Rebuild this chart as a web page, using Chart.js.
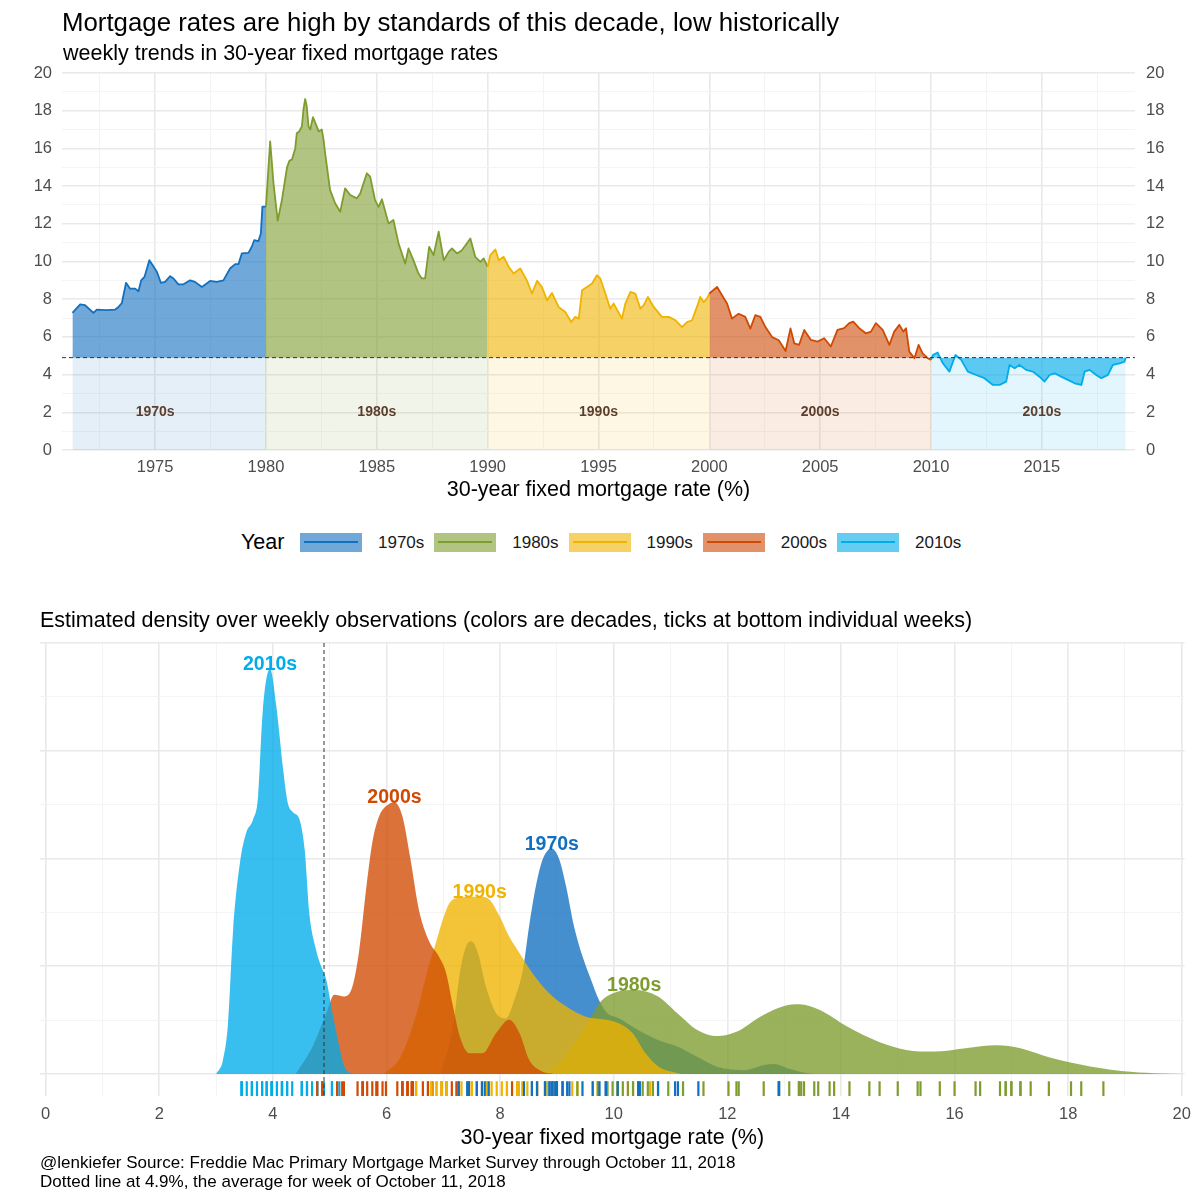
<!DOCTYPE html>
<html>
<head>
<meta charset="utf-8">
<script src="https://cdn.jsdelivr.net/npm/chart.js@4.4.1/dist/chart.umd.min.js"></script>
<style>
html,body{margin:0;padding:0;background:#fff;}
#page{position:relative;width:1200px;height:1200px;overflow:hidden;font-family:"Liberation Sans",Arial,Helvetica,sans-serif;}
.t{position:absolute;white-space:nowrap;color:#000;line-height:1;}
canvas{position:absolute;left:0;}
.lbox{position:absolute;width:62px;height:19px;}
.lbox i{position:absolute;left:4px;right:4px;top:8.5px;height:2px;display:block;}
</style>
</head>
<body>
<div id="page">
  <canvas id="top" width="1200" height="510" style="top:0"></canvas>
  <canvas id="dens" width="1200" height="600" style="top:600px"></canvas>
  <div class="t" style="left:62px;top:10px;font-size:25.8px">Mortgage rates are high by standards of this decade, low historically</div>
  <div class="t" style="left:63px;top:43px;font-size:21.5px">weekly trends in 30-year fixed mortgage rates</div>
  <div class="t" id="legYear" style="left:241px;top:531.5px;font-size:21.5px">Year</div>
  <div class="t" style="left:40px;top:610px;font-size:21.5px">Estimated density over weekly observations (colors are decades, ticks at bottom individual weeks)</div>
  <div class="t" style="left:40px;top:1154px;font-size:17px">@lenkiefer Source: Freddie Mac Primary Mortgage Market Survey through October 11, 2018</div>
  <div class="t" style="left:40px;top:1172.5px;font-size:17px">Dotted line at 4.9%, the average for week of October 11, 2018</div>
</div>
<script>
// ---------------- DATA ----------------
const decades = ['1970s', '1980s', '1990s', '2000s', '2010s'];

// weekly 30-year fixed rate, decimal year / percent
const years1970s = [1971.27, 1971.62, 1971.84, 1972.22, 1972.37, 1972.8, 1973.2, 1973.35, 1973.5, 1973.69, 1973.87, 1974.1, 1974.25, 1974.37, 1974.52, 1974.74, 1974.92, 1975.08, 1975.26, 1975.45, 1975.68, 1975.83, 1976.05, 1976.28, 1976.58, 1976.8, 1977.11, 1977.48, 1977.78, 1978.08, 1978.38, 1978.61, 1978.76, 1978.91, 1979.21, 1979.36, 1979.47, 1979.66, 1979.77, 1979.84, 1980.0];
const rates1970s = [7.27, 7.73, 7.68, 7.27, 7.45, 7.42, 7.45, 7.59, 7.8, 8.87, 8.56, 8.56, 8.42, 9.0, 9.18, 10.07, 9.75, 9.45, 8.87, 8.92, 9.22, 9.1, 8.79, 8.79, 9.0, 8.92, 8.65, 8.97, 8.92, 9.0, 9.63, 9.86, 9.86, 10.43, 10.46, 10.78, 11.13, 11.08, 11.49, 12.91, 12.91];

const years1980s = [1980.0, 1980.19, 1980.34, 1980.53, 1980.72, 1980.95, 1981.06, 1981.17, 1981.32, 1981.39, 1981.5, 1981.62, 1981.69, 1981.77, 1981.84, 1981.92, 1982.0, 1982.12, 1982.23, 1982.38, 1982.52, 1982.6, 1982.67, 1982.89, 1983.12, 1983.35, 1983.57, 1983.8, 1984.1, 1984.25, 1984.55, 1984.7, 1984.92, 1985.08, 1985.23, 1985.53, 1985.75, 1985.98, 1986.28, 1986.43, 1986.65, 1986.88, 1987.03, 1987.18, 1987.36, 1987.56, 1987.79, 1988.02, 1988.24, 1988.39, 1988.62, 1988.84, 1989.22, 1989.44, 1989.67, 1989.82, 1990.0];
const rates1980s = [12.91, 16.37, 14.15, 12.16, 13.26, 15.0, 15.35, 15.4, 16.0, 16.8, 16.9, 17.16, 18.05, 18.62, 18.23, 17.16, 17.0, 17.66, 17.34, 16.9, 17.0, 16.45, 15.74, 13.8, 13.09, 12.64, 13.88, 13.53, 13.35, 13.6, 14.68, 14.5, 13.26, 12.9, 13.3, 12.02, 12.2, 10.96, 9.89, 10.69, 10.07, 9.36, 9.1, 9.1, 10.78, 10.34, 11.58, 10.07, 10.51, 10.69, 10.43, 10.6, 11.22, 10.25, 9.98, 10.16, 9.72];

const years1990s = [1990.0, 1990.12, 1990.35, 1990.5, 1990.72, 1990.95, 1991.17, 1991.47, 1991.77, 1992.0, 1992.23, 1992.45, 1992.68, 1992.9, 1993.2, 1993.5, 1993.77, 1993.95, 1994.11, 1994.26, 1994.48, 1994.71, 1994.93, 1995.08, 1995.31, 1995.53, 1995.68, 1996.06, 1996.21, 1996.44, 1996.66, 1996.89, 1997.04, 1997.23, 1997.49, 1997.86, 1998.17, 1998.47, 1998.77, 1998.99, 1999.22, 1999.44, 1999.59, 1999.74, 1999.89, 2000.0];
const rates1990s = [9.72, 10.34, 10.64, 10.07, 10.25, 9.72, 9.36, 9.63, 9.0, 8.3, 8.97, 8.65, 7.94, 8.33, 7.59, 7.32, 6.79, 7.06, 6.97, 8.48, 8.65, 8.83, 9.27, 9.1, 8.3, 7.5, 7.77, 6.97, 7.77, 8.39, 8.3, 7.5, 7.68, 8.12, 7.59, 7.06, 7.06, 6.88, 6.52, 6.79, 6.88, 7.59, 8.12, 7.85, 8.03, 8.3];

const years2000s = [2000.0, 2000.35, 2000.57, 2000.8, 2001.02, 2001.32, 2001.62, 2001.85, 2002.07, 2002.3, 2002.53, 2002.83, 2003.13, 2003.44, 2003.66, 2003.83, 2004.05, 2004.28, 2004.58, 2004.88, 2005.18, 2005.48, 2005.78, 2006.08, 2006.31, 2006.49, 2006.76, 2007.06, 2007.29, 2007.51, 2007.82, 2008.12, 2008.34, 2008.57, 2008.75, 2008.87, 2009.02, 2009.25, 2009.44, 2009.62, 2009.85, 2010.0];
const rates2000s = [8.3, 8.65, 8.21, 7.77, 6.97, 7.23, 7.06, 6.44, 7.15, 7.06, 6.52, 5.99, 5.82, 5.25, 6.45, 5.66, 5.58, 6.37, 5.84, 5.75, 5.93, 5.49, 6.37, 6.46, 6.73, 6.81, 6.46, 6.19, 6.28, 6.73, 6.37, 5.58, 6.28, 6.64, 6.28, 6.46, 5.22, 4.87, 5.58, 5.13, 4.87, 4.78];

const years2010s = [2010.0, 2010.08, 2010.3, 2010.53, 2010.83, 2011.1, 2011.36, 2011.66, 2012.03, 2012.41, 2012.79, 2013.09, 2013.39, 2013.54, 2013.77, 2013.99, 2014.29, 2014.59, 2014.89, 2015.12, 2015.35, 2015.57, 2015.87, 2016.17, 2016.48, 2016.78, 2016.93, 2017.15, 2017.45, 2017.68, 2017.98, 2018.2, 2018.5, 2018.73, 2018.78];
const rates2010s = [4.78, 5.04, 5.17, 4.6, 4.16, 5.04, 4.78, 4.16, 3.98, 3.81, 3.45, 3.45, 3.63, 4.51, 4.34, 4.51, 4.25, 4.16, 3.89, 3.63, 3.98, 4.07, 3.89, 3.72, 3.54, 3.45, 4.16, 4.25, 3.98, 3.81, 3.98, 4.51, 4.6, 4.69, 4.9];

// estimated density per decade (rate, density)
const densRate1970s = [6.95, 7.17, 7.29, 7.4, 7.49, 7.61, 7.75, 7.93, 8.1, 8.25, 8.4, 8.51, 8.63, 8.75, 8.91, 9.04, 9.16, 9.3, 9.45, 9.6, 9.74, 9.89, 10.08, 10.43, 10.78, 11.12, 11.47, 11.82, 12.3, 12.65, 12.82, 13.07, 13.41, 13.7];
const densVal1970s  = [0, 0.11, 0.234, 0.296, 0.308, 0.281, 0.203, 0.141, 0.129, 0.172, 0.242, 0.343, 0.436, 0.498, 0.523, 0.498, 0.436, 0.343, 0.273, 0.219, 0.172, 0.141, 0.13, 0.102, 0.079, 0.064, 0.04, 0.017, 0.009, 0.021, 0.023, 0.013, 0.002, 0];
const densRate1980s = [8.7, 9.0, 9.3, 9.55, 9.75, 10.0, 10.36, 10.78, 11.12, 11.47, 11.82, 12.16, 12.58, 13.0, 13.27, 13.62, 14.11, 14.66, 15.15, 15.63, 16.19, 16.74, 17.16, 17.71, 18.41, 19.1, 19.65, 20.0];
const densVal1980s  = [0, 0.02, 0.07, 0.12, 0.165, 0.188, 0.195, 0.18, 0.141, 0.102, 0.088, 0.098, 0.133, 0.158, 0.162, 0.149, 0.11, 0.075, 0.056, 0.052, 0.06, 0.067, 0.06, 0.037, 0.017, 0.005, 0.001, 0];
const densRate1990s = [5.95, 6.25, 6.55, 6.72, 6.85, 6.99, 7.11, 7.29, 7.64, 7.81, 7.99, 8.16, 8.34, 8.57, 8.86, 9.16, 9.51, 9.86, 10.09, 10.33, 10.56, 10.79, 11.03, 11.2];
const densVal1990s  = [0, 0.04, 0.15, 0.24, 0.296, 0.358, 0.397, 0.409, 0.411, 0.405, 0.366, 0.319, 0.281, 0.234, 0.188, 0.157, 0.133, 0.126, 0.118, 0.095, 0.048, 0.017, 0.005, 0];
const densRate2000s = [4.4, 4.7, 4.94, 5.08, 5.26, 5.4, 5.52, 5.64, 5.75, 5.87, 6.05, 6.14, 6.28, 6.42, 6.57, 6.75, 6.92, 7.05, 7.17, 7.29, 7.46, 7.69, 7.93, 8.16, 8.34, 8.51, 8.75, 8.95];
const densVal2000s  = [0, 0.064, 0.141, 0.184, 0.18, 0.203, 0.288, 0.428, 0.537, 0.598, 0.627, 0.63, 0.598, 0.5, 0.381, 0.308, 0.273, 0.234, 0.157, 0.087, 0.048, 0.048, 0.095, 0.126, 0.095, 0.033, 0.005, 0];
const densRate2010s = [3.0, 3.12, 3.21, 3.3, 3.42, 3.53, 3.65, 3.74, 3.82, 3.95, 4.06, 4.18, 4.26, 4.35, 4.47, 4.56, 4.64, 4.76, 4.85, 4.94, 5.05, 5.17, 5.26, 5.4];
const densVal2010s  = [0, 0.032, 0.118, 0.335, 0.49, 0.56, 0.59, 0.645, 0.84, 0.94, 0.854, 0.707, 0.63, 0.608, 0.59, 0.52, 0.374, 0.288, 0.25, 0.219, 0.141, 0.064, 0.017, 0];

// tick labels
const yearTicks = [1975, 1980, 1985, 1990, 1995, 2000, 2005, 2010, 2015];
const rateTicks = [0, 2, 4, 6, 8, 10, 12, 14, 16, 18, 20];
const densityRateTicks = [0, 2, 4, 6, 8, 10, 12, 14, 16, 18, 20];
const densityGridTicks = [0, 0.25, 0.5, 0.75, 1.0];
const refRate = 4.9; // rate for week of October 11, 2018

// ---------------- STYLE ----------------
const FONT = '"Liberation Sans", Arial, Helvetica, sans-serif';
Chart.defaults.font.family = FONT;
Chart.defaults.color = '#4d4d4d';
const lineColors = ['#1170c0', '#7f9c2e', '#efb300', '#cf4a03', '#00acea'];
function rgba(hex, a) {
  const n = parseInt(hex.slice(1), 16);
  return `rgba(${(n >> 16) & 255},${(n >> 8) & 255},${n & 255},${a})`;
}
const seriesYears = [years1970s, years1980s, years1990s, years2000s, years2010s];
const seriesRates = [rates1970s, rates1980s, rates1990s, rates2000s, rates2010s];
const densRates = [densRate1970s, densRate1980s, densRate1990s, densRate2000s, densRate2010s];
const densVals = [densVal1970s, densVal1980s, densVal1990s, densVal2000s, densVal2010s];

function withMinor(majors, min, max) {
  const half = (majors[1] - majors[0]) / 2;
  const out = [];
  let v = majors[0] - half * Math.floor((majors[0] - min) / half);
  for (; v <= max + 1e-9; v += half) out.push(Math.round(v * 1000) / 1000);
  return out;
}
const isIn = (arr, v) => arr.some(m => Math.abs(m - v) < 1e-6);
function gridOpts(majors) {
  return {
    drawTicks: false,
    color: ctx => (ctx.tick && isIn(majors, ctx.tick.value)) ? '#e9e9e9' : '#f3f3f3',
    lineWidth: ctx => (ctx.tick && isIn(majors, ctx.tick.value)) ? 1.6 : 0.9
  };
}

// ---------------- TOP CHART ----------------
const topX = {min: 1970.8, max: 2019.2};
const topDatasets = [];
decades.forEach((d, i) => {
  const yrs = seriesYears[i];
  topDatasets.push({
    label: d + ' band', type: 'line', order: 100 - i,
    data: [{x: yrs[0], y: refRate}, {x: yrs[yrs.length - 1], y: refRate}],
    borderColor: 'rgba(0,0,0,0)', borderWidth: 0, pointRadius: 0,
    backgroundColor: rgba(lineColors[i], 0.11), fill: 'origin'
  });
});
decades.forEach((d, i) => {
  topDatasets.push({
    label: d, type: 'line', order: 50 - i,
    data: seriesYears[i].map((x, k) => ({x, y: seriesRates[i][k]})),
    borderColor: lineColors[i], borderWidth: 1.8, pointRadius: 0,
    borderJoinStyle: 'round', tension: 0,
    backgroundColor: rgba(lineColors[i], 0.6), fill: {value: refRate}
  });
});

const topOverlay = {
  id: 'topOverlay',
  afterDatasetsDraw(chart) {
    const {ctx, chartArea, scales} = chart;
    const y = scales.y.getPixelForValue(refRate);
    ctx.save();
    ctx.strokeStyle = '#333'; ctx.lineWidth = 1; ctx.setLineDash([4, 3]);
    ctx.beginPath(); ctx.moveTo(chartArea.left, y); ctx.lineTo(chartArea.right, y); ctx.stroke();
    ctx.setLineDash([]);
    ctx.font = 'bold 14px ' + FONT; ctx.fillStyle = '#5b3f2c';
    ctx.textAlign = 'center'; ctx.textBaseline = 'middle';
    decades.forEach(d => {
      const mid = parseInt(d, 10) + 5;
      ctx.fillText(d, scales.x.getPixelForValue(mid), scales.y.getPixelForValue(2));
    });
    ctx.restore();
  }
};

new Chart(document.getElementById('top'), {
  type: 'line',
  data: {datasets: topDatasets},
  options: {
    responsive: false, animation: false, events: [],
    layout: {padding: {top: 73, left: 0, right: 0, bottom: 0}},
    plugins: {legend: {display: false}, tooltip: {enabled: false}},
    scales: {
      x: {
        type: 'linear', min: topX.min, max: topX.max,
        afterBuildTicks: ax => { ax.ticks = withMinor(yearTicks, topX.min, topX.max).map(v => ({value: v})); },
        afterFit: ax => { ax.height = 60; },
        border: {display: false}, grid: gridOpts(yearTicks),
        ticks: {autoSkip: false, maxRotation: 0, padding: 8, font: {size: 16.5}, color: '#4d4d4d',
          callback: v => isIn(yearTicks, v) ? String(v) : ''},
        title: {display: true, text: '30-year fixed mortgage rate (%)', color: '#000', font: {size: 21.5}, padding: {top: 0, bottom: 7}}
      },
      y: {
        type: 'linear', position: 'left', min: 0, max: 20,
        afterBuildTicks: ax => { ax.ticks = withMinor(rateTicks, 0, 20).map(v => ({value: v})); },
        afterFit: ax => { ax.width = 62; },
        border: {display: false}, grid: gridOpts(rateTicks),
        ticks: {autoSkip: false, padding: 10, font: {size: 16.5}, color: '#4d4d4d',
          callback: v => isIn(rateTicks, v) ? String(v) : ''}
      },
      y2: {
        type: 'linear', position: 'right', min: 0, max: 20,
        afterBuildTicks: ax => { ax.ticks = rateTicks.map(v => ({value: v})); },
        afterFit: ax => { ax.width = 65; },
        border: {display: false}, grid: {display: false, drawTicks: false},
        ticks: {autoSkip: false, padding: 11, font: {size: 16.5}, color: '#4d4d4d', callback: v => String(v)}
      }
    }
  },
  plugins: [topOverlay]
});

// legend (HTML)
const page = document.getElementById('page');
decades.forEach((d, i) => {
  const left = 300 + i * 134.25;
  const box = document.createElement('div');
  box.className = 'lbox';
  box.style.left = left + 'px'; box.style.top = '532.5px';
  box.style.background = rgba(lineColors[i], 0.6);
  const ln = document.createElement('i'); ln.style.background = lineColors[i];
  box.appendChild(ln); page.appendChild(box);
  const t = document.createElement('div');
  t.className = 't'; t.textContent = d;
  t.style.left = (left + 78) + 'px'; t.style.top = '534px'; t.style.fontSize = '17px'; t.style.color = '#1a1a1a';
  page.appendChild(t);
});

// ---------------- DENSITY CHART ----------------
const densX = {min: -0.1, max: 20.05};
const densY = {min: -0.051, max: 1.0};
const rugLevel = -0.034;
const densDatasets = [];
decades.forEach((d, i) => {
  densDatasets.push({
    label: d, type: 'line', order: 10 - i,
    data: densRates[i].map((x, k) => ({x, y: densVals[i][k]})),
    borderColor: 'rgba(0,0,0,0)', borderWidth: 0, pointRadius: 0,
    cubicInterpolationMode: 'monotone',
    backgroundColor: rgba(lineColors[i], 0.78), fill: 'origin'
  });
});
decades.forEach((d, i) => {
  densDatasets.push({
    label: d + ' weeks', type: 'scatter', order: 0,
    data: seriesRates[i].map(r => ({x: r, y: rugLevel})),
    pointStyle: 'line', rotation: 90, pointRadius: 7.5,
    pointBorderColor: lineColors[i], pointBorderWidth: 2.2, pointBackgroundColor: lineColors[i]
  });
});

const densOverlay = {
  id: 'densOverlay',
  afterDatasetsDraw(chart) {
    const {ctx, chartArea, scales} = chart;
    const x = scales.x.getPixelForValue(refRate);
    ctx.save();
    ctx.strokeStyle = '#333'; ctx.lineWidth = 1; ctx.setLineDash([4, 3]);
    ctx.beginPath(); ctx.moveTo(x, chartArea.top); ctx.lineTo(x, chartArea.bottom); ctx.stroke();
    ctx.setLineDash([]);
    ctx.font = 'bold 19.5px ' + FONT; ctx.textAlign = 'center'; ctx.textBaseline = 'alphabetic';
    decades.forEach((d, i) => {
      const vals = densVals[i];
      const k = vals.indexOf(Math.max(...vals));
      ctx.fillStyle = lineColors[i];
      ctx.fillText(d, scales.x.getPixelForValue(densRates[i][k]), scales.y.getPixelForValue(vals[k]) + 1);
    });
    ctx.restore();
  }
};

new Chart(document.getElementById('dens'), {
  type: 'line',
  data: {datasets: densDatasets},
  options: {
    responsive: false, animation: false, events: [],
    layout: {padding: {top: 43, left: 40, right: 15, bottom: 48}},
    plugins: {legend: {display: false}, tooltip: {enabled: false}},
    scales: {
      x: {
        type: 'linear', min: densX.min, max: densX.max,
        afterBuildTicks: ax => { ax.ticks = withMinor(densityRateTicks, densX.min, densX.max).map(v => ({value: v})); },
        afterFit: ax => { ax.height = 56; },
        border: {display: false}, grid: gridOpts(densityRateTicks),
        ticks: {autoSkip: false, maxRotation: 0, padding: 9, font: {size: 16.5}, color: '#4d4d4d',
          callback: v => isIn(densityRateTicks, v) ? String(v) : ''},
        title: {display: true, text: '30-year fixed mortgage rate (%)', color: '#000', font: {size: 21.5}, padding: {top: 0, bottom: 1}}
      },
      y: {
        type: 'linear', min: densY.min, max: densY.max,
        afterBuildTicks: ax => { ax.ticks = withMinor(densityGridTicks, 0, densY.max).map(v => ({value: v})); },
        afterFit: ax => { ax.width = 0; },
        border: {display: false}, grid: gridOpts(densityGridTicks),
        ticks: {display: false}
      }
    }
  },
  plugins: [densOverlay]
});
</script>
</body>
</html>
